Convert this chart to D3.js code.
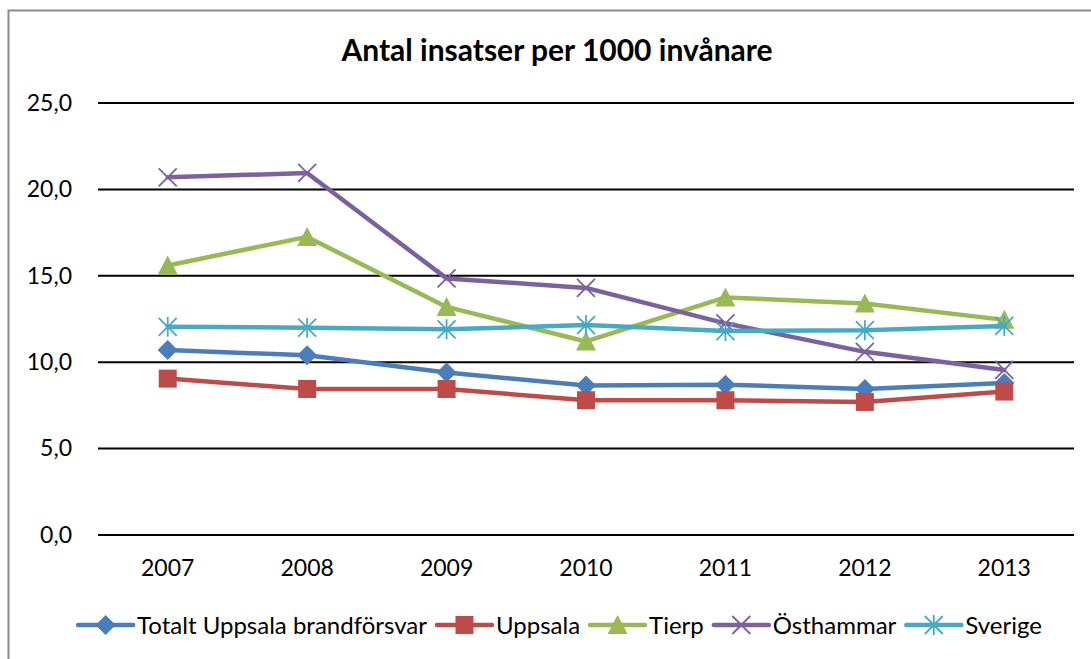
<!DOCTYPE html>
<html>
<head>
<meta charset="utf-8">
<script src="https://cdn.jsdelivr.net/npm/d3@7"></script>
<style>
  body { margin: 0; background: #fff; }
  text { font-family: Lato, "Open Sans", sans-serif; fill: #000; }
</style>
</head>
<body>
<div id="chart"></div>
<script>
const years = ["2007", "2008", "2009", "2010", "2011", "2012", "2013"];
const yTicks = [0, 5, 10, 15, 20, 25];

const totalt = [10.7, 10.4, 9.4, 8.65, 8.7, 8.45, 8.8];
const uppsala = [9.05, 8.45, 8.45, 7.8, 7.8, 7.7, 8.3];
const tierp = [15.6, 17.25, 13.2, 11.2, 13.75, 13.4, 12.45];
const osthammar = [20.7, 20.95, 14.85, 14.3, 12.25, 10.6, 9.55];
const sverige = [12.05, 12.0, 11.9, 12.15, 11.8, 11.85, 12.1];

const series = [
  { name: "Totalt Uppsala brandförsvar", values: totalt, color: "#4a7ebb", marker: "diamond" },
  { name: "Uppsala", values: uppsala, color: "#be4b48", marker: "square" },
  { name: "Tierp", values: tierp, color: "#98b954", marker: "triangle" },
  { name: "Östhammar", values: osthammar, color: "#7d60a0", marker: "x" },
  { name: "Sverige", values: sverige, color: "#46aac5", marker: "star" }
];

const width = 1091, height = 659;
const plotLeft = 98, plotRight = 1074, plotTop = 103, plotBottom = 535;

const svg = d3.select("#chart").append("svg")
  .attr("width", width)
  .attr("height", height);

// chart area frame
svg.append("rect")
  .attr("x", 8.5).attr("y", 10.5)
  .attr("width", 1200).attr("height", 800)
  .attr("fill", "#fff")
  .attr("stroke", "#8c8c8c")
  .attr("stroke-width", 2);

svg.append("text")
  .attr("x", 557).attr("y", 61)
  .attr("text-anchor", "middle")
  .style("font-size", "30px")
  .style("font-weight", "bold")
  .text("Antal insatser per 1000 invånare");

const x = d3.scaleBand().domain(years).range([plotLeft, plotRight]);
const y = d3.scaleLinear().domain([0, 25]).range([plotBottom, plotTop]);

// gridlines
svg.append("g")
  .selectAll("line")
  .data(yTicks)
  .enter()
  .append("line")
  .attr("x1", plotLeft).attr("x2", plotRight)
  .attr("y1", d => y(d)).attr("y2", d => y(d))
  .style("stroke", "#000")
  .style("stroke-width", 2);

// y axis labels
const yAxis = svg.append("g")
  .attr("transform", `translate(${plotLeft},0)`)
  .call(d3.axisLeft(y).tickValues(yTicks).tickSize(0).tickPadding(26)
    .tickFormat(d => d3.format(".1f")(d).replace(".", ",")));
yAxis.select(".domain").remove();
yAxis.selectAll("text").style("font-size", "23px").style("font-family", "Lato, sans-serif");

// x axis labels
const xAxis = svg.append("g")
  .attr("transform", `translate(0,${plotBottom})`)
  .call(d3.axisBottom(x).tickSize(0).tickPadding(25));
xAxis.select(".domain").remove();
xAxis.selectAll("text").style("font-size", "23px").style("font-family", "Lato, sans-serif");

function drawMarker(g, type, color) {
  if (type === "diamond") {
    g.append("path").attr("d", "M0,-10L10,0L0,10L-10,0Z").attr("fill", color);
  } else if (type === "square") {
    g.append("rect").attr("x", -9).attr("y", -9).attr("width", 18).attr("height", 18).attr("fill", color);
  } else if (type === "triangle") {
    g.append("path").attr("d", "M0,-10L10,9L-10,9Z").attr("fill", color);
  } else if (type === "x") {
    g.append("path").attr("d", "M-9,-9L9,9M-9,9L9,-9").attr("stroke", color).attr("stroke-width", 1.8).attr("fill", "none");
  } else if (type === "star") {
    g.append("path").attr("d", "M-9,-9L9,9M-9,9L9,-9M0,-10L0,10").attr("stroke", color).attr("stroke-width", 1.8).attr("fill", "none");
  }
}

const line = d3.line()
  .x((d, i) => x(years[i]) + x.bandwidth() / 2)
  .y(d => y(d));

series.forEach(s => {
  const g = svg.append("g");
  g.append("path")
    .datum(s.values)
    .attr("d", line)
    .attr("fill", "none")
    .attr("stroke", s.color)
    .attr("stroke-width", 4.5)
    .attr("stroke-linejoin", "round")
    .attr("stroke-linecap", "round");
  s.values.forEach((v, i) => {
    const m = g.append("g")
      .attr("transform", `translate(${x(years[i]) + x.bandwidth() / 2},${y(v)})`);
    drawMarker(m, s.marker, s.color);
  });
});

// legend
const legend = svg.append("g");
let lx = 0;
const itemGap = 10;
series.forEach(s => {
  const it = legend.append("g").attr("transform", `translate(${lx},0)`);
  it.append("line")
    .attr("x1", 0).attr("x2", 55).attr("y1", 0).attr("y2", 0)
    .attr("stroke", s.color).attr("stroke-width", 4.5).attr("stroke-linecap", "round");
  drawMarker(it.append("g").attr("transform", "translate(27.5,0)"), s.marker, s.color);
  const t = it.append("text")
    .attr("x", 59).attr("y", 9)
    .style("font-size", "24px")
    .text(s.name);
  lx += 59 + t.node().getComputedTextLength() + itemGap;
});
const legendWidth = lx - itemGap;
legend.attr("transform", `translate(${560 - legendWidth / 2},625)`);
</script>
</body>
</html>
